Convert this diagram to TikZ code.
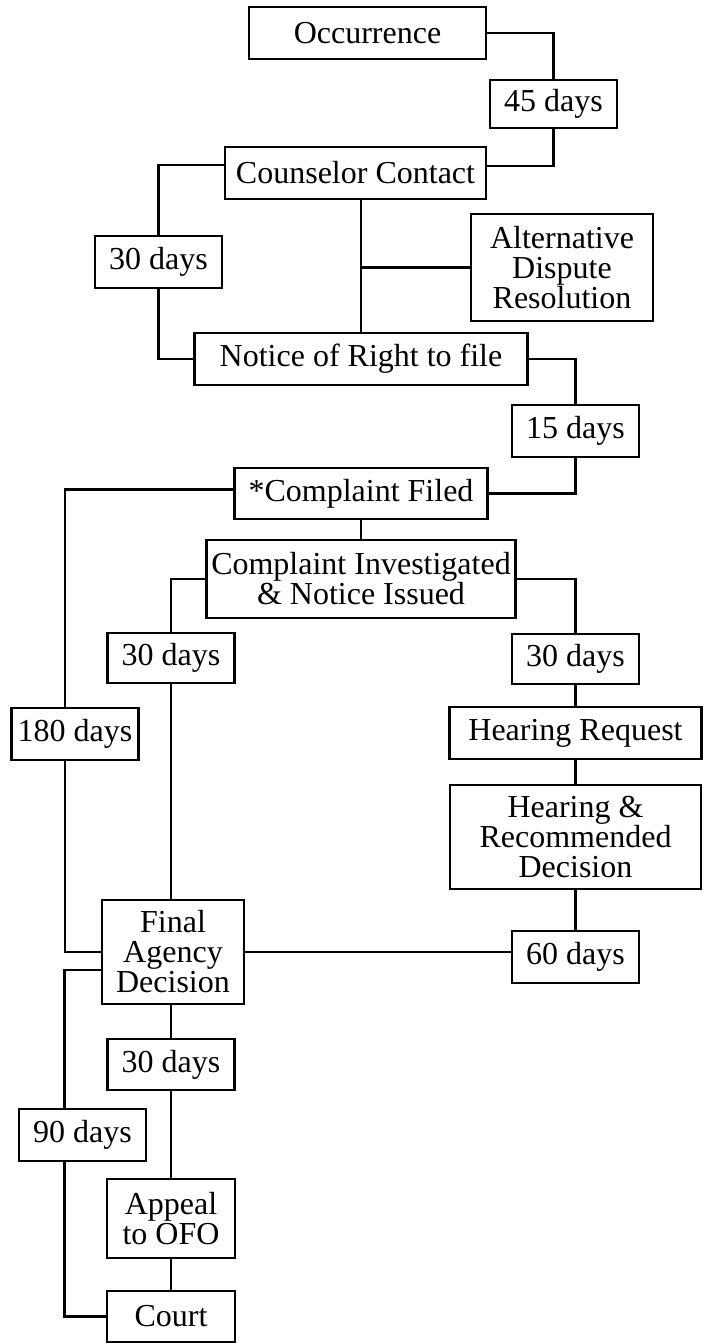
\documentclass[tikz,border=0pt]{standalone}
\usepackage{fontspec}
\setmainfont{Liberation Serif}
\begin{document}
\begin{tikzpicture}[x=0.5pt,y=-0.5pt,
  block/.style={draw,line width=1.4pt,align=center,inner sep=0pt,font=\fontsize{16}{15}\selectfont},
  days/.style={block,minimum width=63.5pt,minimum height=26pt},
  link/.style={line width=1.3pt}]
\def\colL{171}
\def\colM{361}
\def\colR{575.5}
  \useasboundingbox (0,0) rectangle (702,1344);
  %\draw[help lines] (0,0) grid[step=50] (702,1344);
\path
(367.5,33) node [block,minimum width=118.5pt,minimum height=26pt] (occ) {Occurrence}
(553.5,104) node [days,minimum height=24pt] (d45) {45 days}
(355.5,173) node [block,minimum width=130.5pt,minimum height=26pt] (cc) {Counselor Contact}
(158.5,262) node [days] (d30a) {30 days}
(562,267.5) node [block,minimum width=91pt,minimum height=53.5pt] (adr) {Alternative\\Dispute\\Resolution}
(\colM,359) node [block,minimum width=166.5pt,minimum height=26pt] (nrf) {Notice of Right to file}
(\colR,431) node [days] (d15) {15 days}
(\colM,493.5) node [block,minimum width=126.5pt,minimum height=25.5pt] (cf) {*Complaint Filed}
(\colM,579) node [block,minimum width=154.5pt,minimum height=39pt] (ci) {Complaint Investigated\\\& Notice Issued}
(\colL,658) node [days,minimum height=25pt] (d30b) {30 days}
(\colR,659) node [days,minimum height=25pt] (d30c) {30 days}
(75,734) node [days] (d180) {180 days}
(\colR,733) node [block,minimum width=126pt,minimum height=26pt] (hr) {Hearing Request}
(\colR,837) node [block,minimum width=125.5pt,minimum height=52pt] (hrd) {Hearing \&\\Recommended\\Decision}
(173,952) node [block,minimum width=71pt,minimum height=52pt] (fad) {Final\\Agency\\Decision}
(\colR,957) node [days] (d60) {60 days}
(\colL,1064.5) node [days,minimum height=25.5pt] (d30d) {30 days}
(82.5,1135) node [days] (d90) {90 days}
(\colL,1218.5) node [block,minimum width=64pt,minimum height=39.5pt] (appeal) {Appeal\\to OFO}
(\colL,1316.5) node [block,minimum width=64pt,minimum height=25.5pt] (court) {Court}
;
  % informal stage
  \draw[link] (occ.east) -| (d45.north);
  \draw[link] (d45.south) |- ([yshift=3.5pt]cc.east);
  \draw[link] ([yshift=4pt]cc.west) -| (d30a.north);
  \draw[link] (d30a.south) |- (nrf.west);
  \draw[link] (nrf.north |- cc.south) -- (nrf.north);
  \draw[link] (nrf.north |- adr.west) -- (adr.west);
  \draw[link] (nrf.east) -| (d15.north);
  \draw[link] (d15.south) |- (cf.east);
  % formal stage
  \draw[link] ([yshift=2pt]cf.west) -| ([xshift=-5pt]d180.north);
  \draw[link] ([xshift=-5pt]d180.south) |- (fad.west);
  \draw[link] (cf.south) -- (ci.north);
  \draw[link] (ci.west) -| (d30b.north);
  \draw[link] (d30b.south) -- (d30b.south |- fad.north);
  \draw[link] (ci.east) -| (d30c.north);
  \draw[link] (d30c.south) -- (hr.north);
  \draw[link] (hr.south) -- (hrd.north);
  \draw[link] (hrd.south) -- (d60.north);
  \draw[link] (fad.east) -- (fad.east -| d60.west);
  % appeals
  \draw[link] ([yshift=-9pt]fad.west) -| ([xshift=-9pt]d90.north);
  \draw[link] ([xshift=-9pt]d90.south) |- (court.west);
  \draw[link] (d30d.north |- fad.south) -- (d30d.north);
  \draw[link] (d30d.south) -- (appeal.north);
  \draw[link] (appeal.south) -- (court.north);
\end{tikzpicture}
\end{document}
